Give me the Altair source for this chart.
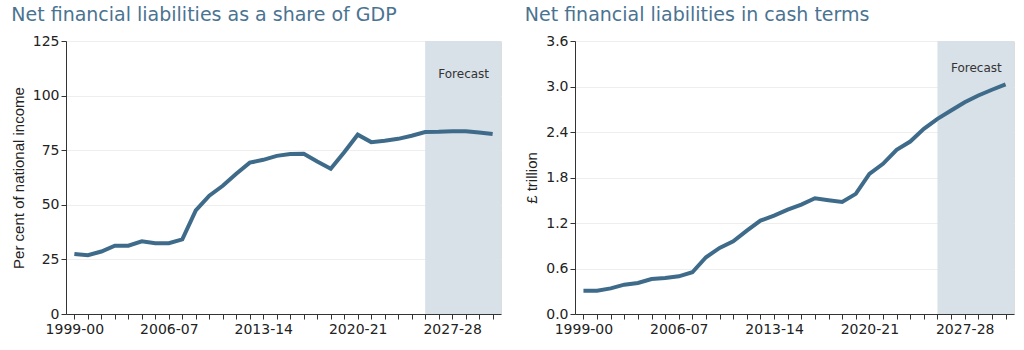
import altair as alt
import pandas as pd

years = ["1999-00", "2000-01", "2001-02", "2002-03", "2003-04", "2004-05", "2005-06",
         "2006-07", "2007-08", "2008-09", "2009-10", "2010-11", "2011-12", "2012-13",
         "2013-14", "2014-15", "2015-16", "2016-17", "2017-18", "2018-19", "2019-20",
         "2020-21", "2021-22", "2022-23", "2023-24", "2024-25", "2025-26", "2026-27",
         "2027-28", "2028-29", "2029-30", "2030-31"]
share = [27.5, 26.9, 28.6, 31.3, 31.3, 33.3, 32.4, 32.4, 34.2, 47.4, 54.2, 58.7, 64.2,
         69.3, 70.6, 72.4, 73.3, 73.4, 69.8, 66.5, 74.1, 82.1, 78.7, 79.3, 80.2, 81.6,
         83.3, 83.4, 83.7, 83.7, 83.1, 82.4]
cash = [0.308, 0.308, 0.338, 0.387, 0.409, 0.462, 0.475, 0.497, 0.550, 0.748, 0.872,
        0.959, 1.100, 1.232, 1.298, 1.377, 1.443, 1.526, 1.500, 1.478, 1.584, 1.848,
        1.980, 2.165, 2.274, 2.442, 2.574, 2.684, 2.793, 2.882, 2.957, 3.027]
label_years = ["1999-00", "2006-07", "2013-14", "2020-21", "2027-28"]
forecast_start = "2025-26"
forecast_text_at = "2028-29"

share_ticks = [0, 25, 50, 75, 100, 125]
cash_ticks = [0.0, 0.6, 1.2, 1.8, 2.4, 3.0, 3.6]

df = pd.DataFrame({"year": years, "share": share, "cash": cash})

FONT = "DejaVu Sans"
H = 273
LINE = "#3f6b8b"
SHADE = "#d8e0e8"
TITLE_COLOR = "#4a7391"

labels_js = "[" + ",".join(f"'{y}'" for y in label_years) + "]"


def panel(field, title, ytitle, ticks, fmt, w, text_y):
    xenc = alt.X(
        "year:O", sort=years,
        scale=alt.Scale(type="point", padding=0.62),
        axis=alt.Axis(
            title=None, labelAngle=0, grid=False,
            labelExpr=f"indexof({labels_js}, datum.value) >= 0 ? datum.value : ''",
            tickSize=5, tickColor="#333", domainColor="#333",
            labelFont=FONT, labelFontSize=14, labelColor="#222", labelPadding=3,
        ),
    )
    yscale = alt.Scale(domain=[ticks[0], ticks[-1]], nice=False)
    yaxis = alt.Axis(
        values=ticks, format=fmt, title=ytitle, grid=True, gridColor="#eeeeee",
        tickSize=5, tickColor="#333", domainColor="#333",
        labelFont=FONT, labelFontSize=14, labelColor="#222", labelPadding=2,
        titleFont="Liberation Sans", titleFontSize=15, titleFontWeight="normal",
        titleColor="#222", titlePadding=6,
    )
    base = alt.Chart(df)
    shade = base.transform_filter(alt.datum.year == forecast_start).mark_rect(
        color=SHADE
    ).encode(
        x=xenc, x2=alt.value(w),
        y=alt.Y(datum=ticks[-1], scale=yscale, axis=yaxis), y2=alt.datum(ticks[0]),
    )
    line = base.mark_line(color=LINE, strokeWidth=4).encode(
        x=xenc, y=alt.Y(f"{field}:Q", scale=yscale, axis=yaxis)
    )
    text = base.transform_filter(alt.datum.year == forecast_text_at).mark_text(
        text="Forecast", font=FONT, fontSize=12, color="#333", dx=-2
    ).encode(x=xenc, y=alt.Y(datum=text_y, scale=yscale, axis=yaxis))
    return alt.layer(shade, line, text).properties(
        width=w, height=H,
        title=alt.TitleParams(
            title, anchor="start", frame="bounds", font=FONT, fontSize=19,
            fontWeight="normal", color=TITLE_COLOR, offset=9,
        ),
    )


left = panel("share", "Net financial liabilities as a share of GDP",
             "Per cent of national income", share_ticks, "d", 435, 110)
right = panel("cash", "Net financial liabilities in cash terms",
              "£ trillion", cash_ticks, ".1f", 439, 3.24)

chart = alt.hconcat(left, right, spacing=22).properties(
    padding={"left": 10, "top": 5, "right": 5, "bottom": 5}
).configure_view(stroke=None).configure(background="white")

chart.save("out.html", embed_options={"renderer": "svg", "actions": False})
